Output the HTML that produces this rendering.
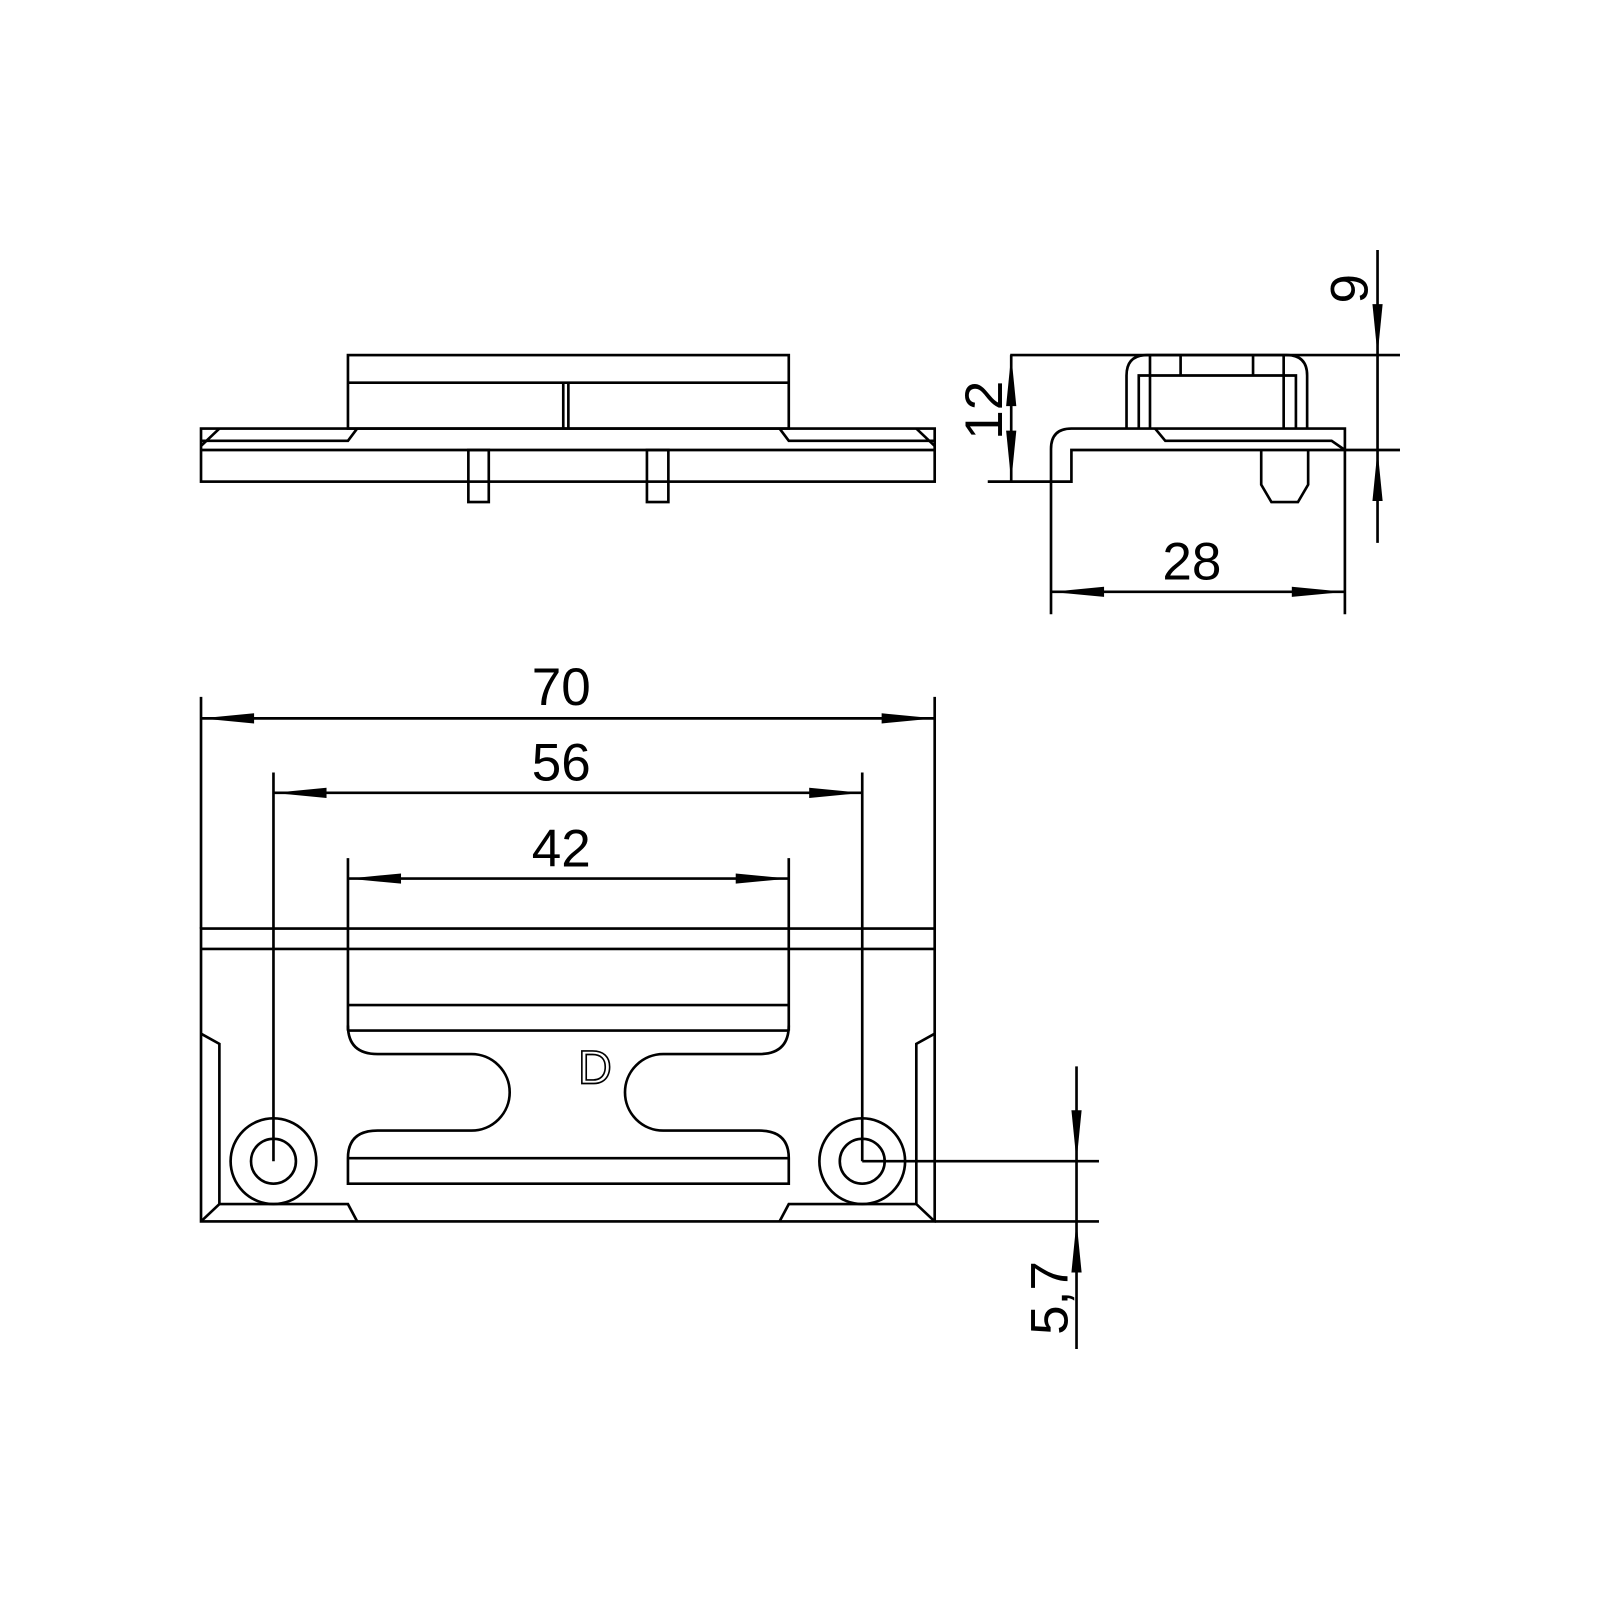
<!DOCTYPE html>
<html><head><style>body{margin:0;background:#fff}svg{display:block}</style></head><body>
<svg width="1600" height="1600" viewBox="0 0 1600 1600" xmlns="http://www.w3.org/2000/svg">
<g transform="scale(1.0204)">
<g fill="none" stroke="#000" stroke-width="2.6">
<!-- top view -->
<rect x="341" y="348" width="432" height="72"/>
<line x1="341" y1="375" x2="773" y2="375"/>
<line x1="552" y1="375" x2="552" y2="420"/><line x1="557" y1="375" x2="557" y2="420"/>
<rect x="197" y="420" width="719" height="52"/>
<line x1="197" y1="441" x2="916" y2="441"/>
<polyline points="215,420 197,437"/>
<polyline points="197,432 341,432 350,420"/>
<polyline points="898,420 916,437"/>
<polyline points="916,432 773,432 764,420"/>
<rect x="459" y="441" width="20" height="51"/>
<rect x="634" y="441" width="21" height="51"/>
<!-- side view -->
<line x1="990" y1="348" x2="1372" y2="348"/>
<path d="M1030,472 L1030,440 Q1030,420 1050,420 L1318,420 L1318,441 L1050,441 L1050,472 Z"/>
<line x1="968" y1="472" x2="1030" y2="472"/>
<polyline points="1132,420 1142,432 1305,432 1318,441"/>
<line x1="1318" y1="441" x2="1372" y2="441"/>
<path d="M1104,420 L1104,368 Q1104,348 1124,348 L1261,348 Q1281,348 1281,368 L1281,420"/>
<polyline points="1116,420 1116,368 1270,368 1270,420"/>
<line x1="1127" y1="348" x2="1127" y2="420"/><line x1="1258" y1="348" x2="1258" y2="420"/>
<line x1="1157" y1="348" x2="1157" y2="368"/><line x1="1228" y1="348" x2="1228" y2="368"/>
<polyline points="1236,441 1236,475 1246,492 1272,492 1282,475 1282,441"/>
<!-- dims side -->
<line x1="1350" y1="245" x2="1350" y2="532"/>
<line x1="991" y1="348" x2="991" y2="472"/>
<line x1="1030" y1="472" x2="1030" y2="602"/>
<line x1="1318" y1="441" x2="1318" y2="602"/>
<line x1="1030" y1="580" x2="1318" y2="580"/>
<!-- bottom view -->
<rect x="197" y="910" width="719" height="287"/>
<line x1="197" y1="930" x2="916" y2="930"/>
<line x1="197" y1="683" x2="197" y2="910"/><line x1="916" y1="683" x2="916" y2="910"/>
<line x1="197" y1="704" x2="916" y2="704"/>
<line x1="268" y1="757" x2="268" y2="1138"/><line x1="845" y1="757" x2="845" y2="1138"/>
<line x1="268" y1="777" x2="845" y2="777"/>
<line x1="341" y1="841" x2="341" y2="1010"/><line x1="773" y1="841" x2="773" y2="1010"/>
<line x1="341" y1="861" x2="773" y2="861"/>
<line x1="341" y1="985" x2="773" y2="985"/>
<path d="M341,1005 Q341,1033 370,1033 L462,1033 A37.5,37.5 0 0 1 462,1108 L370,1108 Q341,1108 341,1135 L341,1160 L773,1160 L773,1135 Q773,1108 744,1108 L650,1108 A37.5,37.5 0 0 1 650,1033 L744,1033 Q773,1033 773,1005"/>
<line x1="341" y1="1010" x2="773" y2="1010"/>
<line x1="341" y1="1135" x2="773" y2="1135"/>
<polyline points="197,1013 215,1023 215,1180 197,1197"/>
<polyline points="215,1180 341,1180 350,1197"/>
<polyline points="916,1013 898,1023 898,1180 916,1197"/>
<polyline points="898,1180 773,1180 764,1197"/>
<circle cx="268" cy="1138" r="42"/><circle cx="268" cy="1138" r="22"/>
<circle cx="845" cy="1138" r="42"/><circle cx="845" cy="1138" r="22"/>
<line x1="845" y1="1138" x2="1077" y2="1138"/>
<line x1="916" y1="1197" x2="1077" y2="1197"/>
<line x1="1055" y1="1045" x2="1055" y2="1322"/>
</g>
<g fill="#000">
<polygon points="1350,348 1345,298 1355,298"/>
<polygon points="1350,441 1345,491 1355,491"/>
<polygon points="991,348 986,398 996,398"/>
<polygon points="991,472 986,422 996,422"/>
<polygon points="1030,580 1082,575 1082,585"/>
<polygon points="1318,580 1266,575 1266,585"/>
<polygon points="197,704 249,699 249,709"/>
<polygon points="916,704 864,699 864,709"/>
<polygon points="268,777 320,772 320,782"/>
<polygon points="845,777 793,772 793,782"/>
<polygon points="341,861 393,856 393,866"/>
<polygon points="773,861 721,856 721,866"/>
<polygon points="1055,1138 1050,1088 1060,1088"/>
<polygon points="1055,1197 1050,1247 1060,1247"/>
</g>
<g font-family="Liberation Sans, sans-serif" font-size="52" fill="#000" text-anchor="middle">
<text x="550" y="691">70</text>
<text x="550" y="765">56</text>
<text x="550" y="849">42</text>
<text x="1168" y="568">28</text>
<text transform="translate(982,402) rotate(-90)">12</text>
<text transform="translate(1340,283) rotate(-90)">9</text>
<text transform="translate(1046,1272) rotate(-90)">5,7</text>
<text x="583" y="1062" font-size="46" fill="none" stroke="#000" stroke-width="1.6">D</text>
</g>
</g>
</svg>
</body></html>
